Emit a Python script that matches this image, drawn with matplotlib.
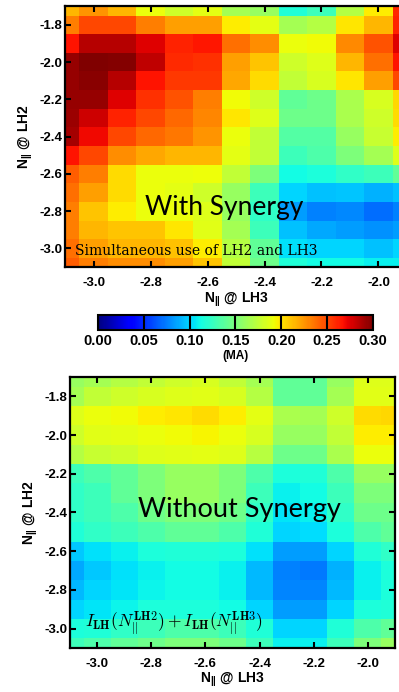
import matplotlib
matplotlib.use("Agg")
import matplotlib.pyplot as plt
import numpy as np

plt.rcParams["font.family"] = ["Liberation Sans", "DejaVu Sans"]
plt.rcParams["font.weight"] = "bold"
plt.rcParams["axes.labelweight"] = "bold"
plt.rcParams["axes.unicode_minus"] = False
plt.rcParams["mathtext.fontset"] = "custom"
plt.rcParams["mathtext.rm"] = "Liberation Sans:bold"
plt.rcParams["mathtext.bf"] = "Liberation Sans:bold"
plt.rcParams["mathtext.it"] = "Liberation Sans:bold"

# grid: N|| of LH3 (columns) and LH2 (rows, top to bottom)
n_lh3 = [-3.1, -3.0, -2.9, -2.8, -2.7, -2.6, -2.5, -2.4, -2.3, -2.2, -2.1, -2.0, -1.9]
n_lh2 = [-1.7, -1.8, -1.9, -2.0, -2.1, -2.2, -2.3, -2.4, -2.5, -2.6, -2.7, -2.8, -2.9, -3.0, -3.1]

# driven current (MA), simultaneous use of LH2 and LH3
i_with = [
    [0.215, 0.225, 0.215, 0.190, 0.180, 0.188, 0.165, 0.160, 0.117, 0.127, 0.170, 0.197, 0.260],
    [0.233, 0.250, 0.250, 0.233, 0.222, 0.222, 0.197, 0.188, 0.165, 0.170, 0.200, 0.215, 0.262],
    [0.267, 0.285, 0.285, 0.275, 0.262, 0.265, 0.237, 0.228, 0.190, 0.193, 0.229, 0.247, 0.275],
    [0.293, 0.300, 0.298, 0.283, 0.260, 0.257, 0.222, 0.210, 0.180, 0.186, 0.215, 0.237, 0.267],
    [0.293, 0.297, 0.285, 0.267, 0.255, 0.255, 0.220, 0.203, 0.175, 0.183, 0.200, 0.222, 0.250],
    [0.293, 0.293, 0.275, 0.257, 0.247, 0.233, 0.193, 0.180, 0.140, 0.145, 0.167, 0.183, 0.205],
    [0.292, 0.280, 0.262, 0.250, 0.240, 0.230, 0.200, 0.186, 0.145, 0.145, 0.167, 0.180, 0.203],
    [0.290, 0.270, 0.250, 0.240, 0.235, 0.225, 0.190, 0.175, 0.135, 0.135, 0.160, 0.177, 0.197],
    [0.267, 0.250, 0.228, 0.220, 0.215, 0.215, 0.188, 0.175, 0.127, 0.133, 0.150, 0.165, 0.186],
    [0.243, 0.233, 0.203, 0.190, 0.190, 0.192, 0.175, 0.150, 0.112, 0.115, 0.122, 0.127, 0.140],
    [0.237, 0.222, 0.203, 0.190, 0.188, 0.180, 0.160, 0.127, 0.100, 0.094, 0.096, 0.090, 0.094],
    [0.233, 0.210, 0.197, 0.190, 0.190, 0.186, 0.160, 0.122, 0.084, 0.075, 0.078, 0.070, 0.075],
    [0.233, 0.215, 0.210, 0.210, 0.200, 0.187, 0.165, 0.127, 0.094, 0.087, 0.084, 0.080, 0.084],
    [0.237, 0.222, 0.215, 0.215, 0.212, 0.197, 0.170, 0.140, 0.104, 0.100, 0.100, 0.094, 0.100],
    [0.243, 0.233, 0.228, 0.228, 0.222, 0.210, 0.175, 0.145, 0.117, 0.112, 0.112, 0.108, 0.108],
]

# sum of the currents driven by LH2 and LH3 separately (MA)
i_without = [
    [0.160, 0.165, 0.170, 0.175, 0.180, 0.183, 0.175, 0.165, 0.140, 0.140, 0.160, 0.186, 0.186],
    [0.165, 0.175, 0.180, 0.183, 0.186, 0.187, 0.183, 0.170, 0.140, 0.140, 0.165, 0.187, 0.187],
    [0.186, 0.190, 0.193, 0.197, 0.200, 0.203, 0.197, 0.188, 0.167, 0.165, 0.180, 0.203, 0.205],
    [0.180, 0.187, 0.188, 0.190, 0.193, 0.195, 0.190, 0.183, 0.160, 0.160, 0.175, 0.197, 0.197],
    [0.170, 0.178, 0.180, 0.186, 0.187, 0.188, 0.186, 0.172, 0.145, 0.145, 0.167, 0.190, 0.190],
    [0.127, 0.133, 0.140, 0.150, 0.160, 0.160, 0.150, 0.133, 0.115, 0.117, 0.133, 0.160, 0.160],
    [0.122, 0.127, 0.140, 0.150, 0.160, 0.160, 0.150, 0.127, 0.108, 0.112, 0.127, 0.150, 0.150],
    [0.122, 0.127, 0.133, 0.145, 0.150, 0.150, 0.145, 0.122, 0.105, 0.108, 0.122, 0.145, 0.145],
    [0.117, 0.122, 0.127, 0.133, 0.140, 0.140, 0.133, 0.117, 0.100, 0.102, 0.115, 0.133, 0.140],
    [0.097, 0.104, 0.108, 0.115, 0.117, 0.117, 0.115, 0.104, 0.084, 0.084, 0.100, 0.117, 0.122],
    [0.087, 0.097, 0.104, 0.108, 0.112, 0.112, 0.108, 0.092, 0.075, 0.073, 0.090, 0.108, 0.115],
    [0.092, 0.100, 0.105, 0.110, 0.112, 0.112, 0.108, 0.092, 0.077, 0.077, 0.092, 0.108, 0.115],
    [0.100, 0.105, 0.110, 0.115, 0.115, 0.115, 0.112, 0.100, 0.084, 0.084, 0.100, 0.115, 0.117],
    [0.115, 0.117, 0.122, 0.127, 0.133, 0.133, 0.127, 0.117, 0.100, 0.100, 0.117, 0.133, 0.140],
    [0.127, 0.133, 0.140, 0.145, 0.150, 0.150, 0.145, 0.127, 0.108, 0.108, 0.127, 0.150, 0.160],
]

x_ticks = [-3.0, -2.8, -2.6, -2.4, -2.2, -2.0]
y_ticks = [-1.8, -2.0, -2.2, -2.4, -2.6, -2.8, -3.0]
cbar_ticks = [0.00, 0.05, 0.10, 0.15, 0.20, 0.25, 0.30]

xlabel = r"$\mathbf{N}_{\mathbf{||}}$ @ LH3"
ylabel = r"$\mathbf{N}_{\mathbf{||}}$ @ LH2"


def draw_map(ax, values):
    mesh = ax.pcolormesh(n_lh3, n_lh2, np.array(values), cmap="jet",
                         vmin=0.0, vmax=0.3, shading="nearest")
    ax.set_xlim(-3.1, -1.9)
    ax.set_ylim(-3.1, -1.7)
    ax.set_xticks(x_ticks)
    ax.set_yticks(y_ticks)
    ax.set_xticklabels([f"{t:.1f}" for t in x_ticks])
    ax.set_yticklabels([f"{t:.1f}" for t in y_ticks])
    ax.tick_params(direction="in", length=4, width=1.5, top=True, right=True,
                   labelsize=9.5)
    ax.tick_params(axis="x", pad=7)
    ax.tick_params(axis="y", pad=2)
    for s in ax.spines.values():
        s.set_linewidth(1.6)
    ax.set_xlabel(xlabel, fontsize=10, labelpad=1)
    ax.set_ylabel(ylabel, fontsize=10, labelpad=3)
    return mesh


fig = plt.figure(figsize=(3.99, 6.92), dpi=100)

ax1 = fig.add_axes([0.163, 0.614, 0.857, 0.377])
mesh = draw_map(ax1, i_with)
ax1.text(0.465, 0.23, "With Synergy", transform=ax1.transAxes, fontsize=19,
         family="Lato", fontweight="normal", ha="center", va="center")
ax1.text(0.028, 0.06, "Simultaneous use of LH2 and LH3", transform=ax1.transAxes,
         fontsize=10, family="DejaVu Serif", fontweight="normal",
         ha="left", va="center")

cax = fig.add_axes([0.2456, 0.523, 0.689, 0.0217])
cbar = fig.colorbar(mesh, cax=cax, orientation="horizontal", ticks=cbar_ticks)
cbar.ax.set_xticklabels([f"{t:.2f}" for t in cbar_ticks])
cbar.ax.tick_params(length=0, labelsize=10.5, pad=3)
for t in cbar_ticks:
    cax.axvline(t, color="black", linewidth=1.5)
cbar.outline.set_linewidth(1.5)
cbar.set_label("(MA)", fontsize=8.5, fontweight="bold", labelpad=1)

ax2 = fig.add_axes([0.1754, 0.0636, 0.8145, 0.3916])
draw_map(ax2, i_without)
ax2.text(0.52, 0.51, "Without Synergy", transform=ax2.transAxes, fontsize=19.5,
         family="Lato", fontweight="normal", ha="center", va="center")
ax2.text(0.045, 0.09,
         r"$I_{\mathbf{LH}}(N_{||}^{\mathbf{LH2}})+I_{\mathbf{LH}}(N_{||}^{\mathbf{LH3}})$",
         transform=ax2.transAxes, fontsize=12.5, math_fontfamily="cm",
         ha="left", va="center")

fig.savefig("out.png", dpi=100)
